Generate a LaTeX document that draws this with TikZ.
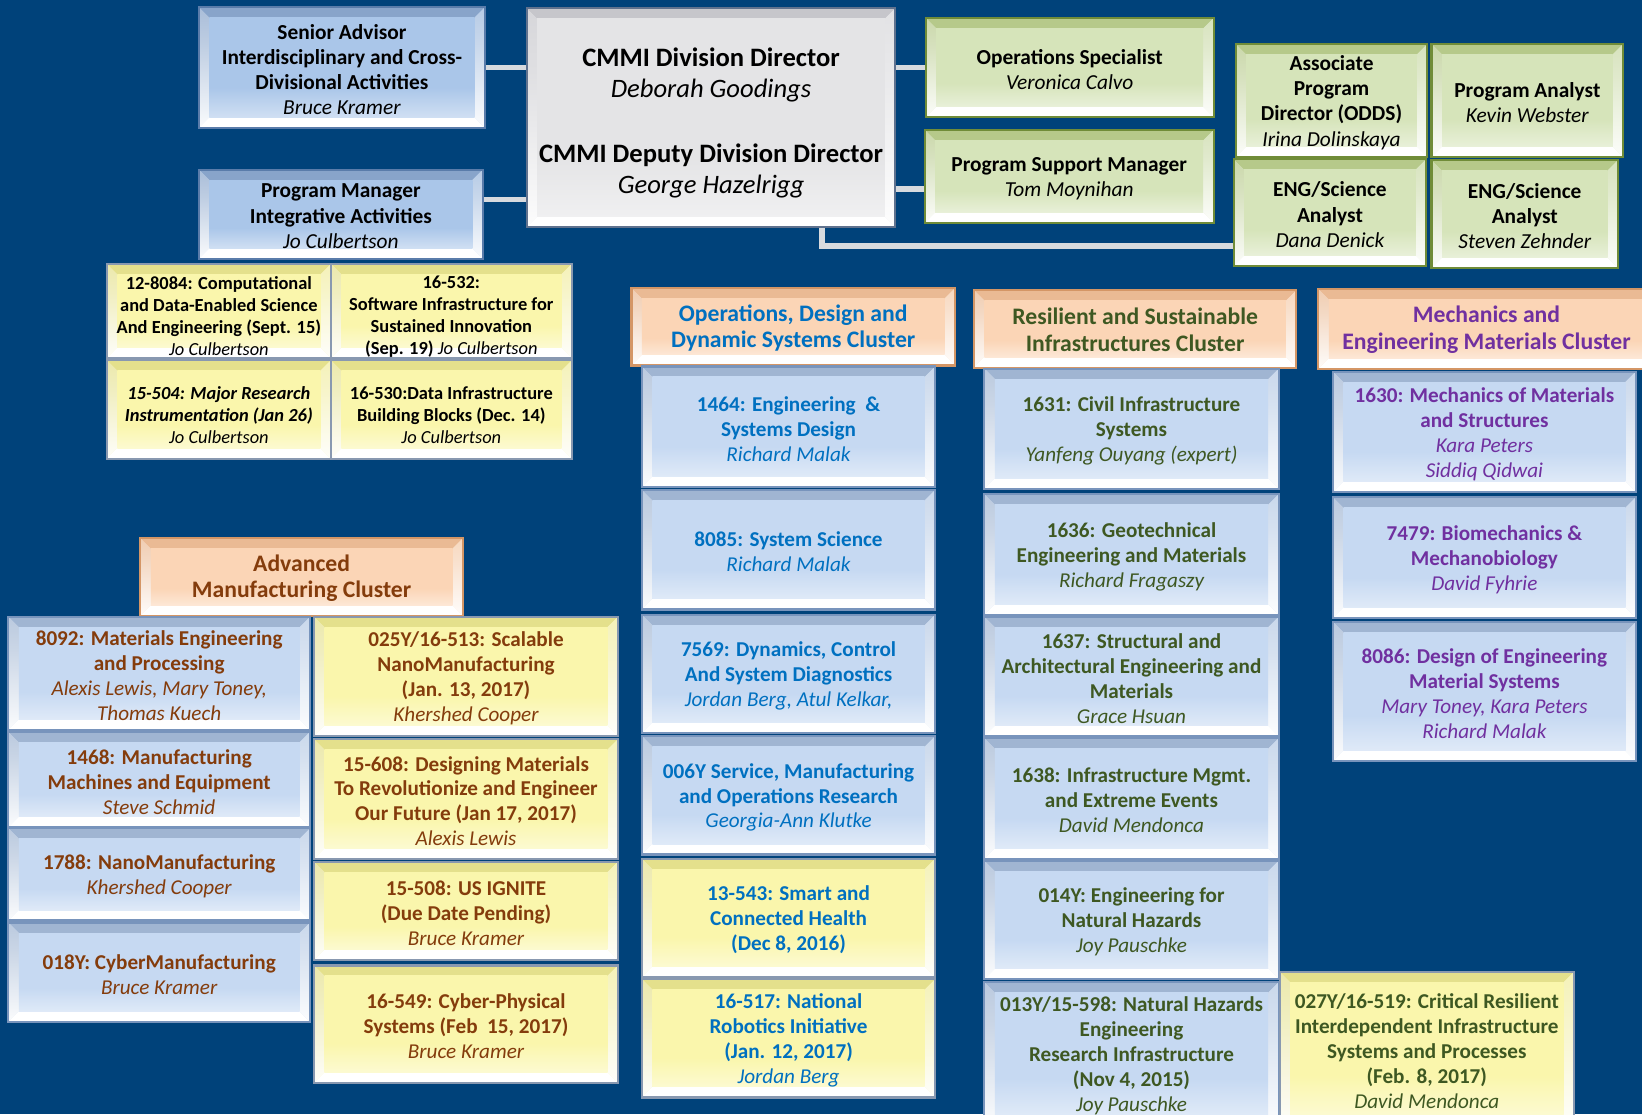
\documentclass[tikz,border=0pt]{standalone}
\usepackage{fontspec}
\setmainfont{Carlito}
\usetikzlibrary{calc,fit}

\definecolor{bg}{RGB}{0,66,122}
\definecolor{conn}{RGB}{215,218,222}
\definecolor{tbF}{RGB}{170,198,233}
\definecolor{tbB}{RGB}{136,164,202}
\definecolor{tbD}{RGB}{90,124,170}
\definecolor{pbF}{RGB}{198,217,242}
\definecolor{pbB}{RGB}{160,181,210}
\definecolor{pbD}{RGB}{120,148,188}
\definecolor{grF}{RGB}{214,228,186}
\definecolor{grB}{RGB}{182,201,138}
\definecolor{grD}{RGB}{112,140,56}
\definecolor{gyF}{RGB}{228,228,230}
\definecolor{gyB}{RGB}{198,198,203}
\definecolor{gyD}{RGB}{96,114,142}
\definecolor{pcF}{RGB}{251,213,182}
\definecolor{pcB}{RGB}{234,186,148}
\definecolor{pcD}{RGB}{212,150,102}
\definecolor{ylF}{RGB}{250,246,172}
\definecolor{ylB}{RGB}{228,224,140}
\definecolor{ylD}{RGB}{136,152,176}
\definecolor{tBlue}{RGB}{0,112,192}
\definecolor{tGreen}{RGB}{62,88,34}
\definecolor{tPurple}{RGB}{112,48,160}
\definecolor{tBrown}{RGB}{132,60,12}

\pgfdeclareverticalshading[bevface]{bevshade}{100bp}{color(0bp)=(white); color(18bp)=(bevface!35!white); color(40bp)=(bevface); color(100bp)=(bevface)}
\pgfdeclareverticalshading[bevside]{sideshade}{100bp}{color(0bp)=(white); color(22bp)=(white); color(60bp)=(bevside!55!white); color(100bp)=(bevside)}

\tikzset{
  bev/.style n args={3}{draw=#3, line width=1pt, fill=#1,
    inner sep=0pt,
    path picture={
      \coordinate (bsw) at (path picture bounding box.south west);
      \coordinate (bne) at (path picture bounding box.north east);
      \coordinate (bnw) at (path picture bounding box.north west);
      \coordinate (bse) at (path picture bounding box.south east);
      \def\bevd{5pt}
      \fill[#2] (bnw) -- (bne) -- ($(bne)+(-\bevd,-\bevd)$) -- ($(bnw)+(\bevd,-\bevd)$) -- cycle;
      \colorlet{bevside}{#2}
      \shade[shading=sideshade] (bnw) -- ($(bnw)+(\bevd,-\bevd)$) -- ($(bsw)+(\bevd,\bevd)$) -- (bsw) -- cycle;
      \colorlet{bevside}{#2!45!#1}
      \shade[shading=sideshade] (bne) -- ($(bne)+(-\bevd,-\bevd)$) -- ($(bse)+(-\bevd,\bevd)$) -- (bse) -- cycle;
      \fill[white] (bsw) -- ($(bsw)+(\bevd,\bevd)$) -- ($(bse)+(-\bevd,\bevd)$) -- (bse) -- cycle;
      \colorlet{bevface}{#1}
      \shade[shading=bevshade] ($(bsw)+(\bevd,\bevd)$) rectangle ($(bne)+(-\bevd,-\bevd)$);
    }},
  txt/.style={align=center, inner sep=0pt, yshift=-1pt},
  topfont/.style={txt, font=\bfseries\fontsize{10.2}{12}\selectfont},
  progfont/.style={txt, font=\bfseries\fontsize{10.1}{11.9}\selectfont, text=#1},
  headfont/.style={txt, yshift=0.5pt, font=\bfseries\fontsize{11.3}{12.6}\selectfont, text=#1},
  smallfont/.style={txt, yshift=-1.5pt, font=\bfseries\fontsize{8.8}{10.5}\selectfont},
  dirfont/.style={txt, yshift=-1.5pt, font=\bfseries\fontsize{12.7}{15}\selectfont},
  blueB/.style={bev={tbF}{tbB}{tbD}},
  greenB/.style={bev={grF}{grB}{grD}},
  greyB/.style={bev={gyF}{gyB}{gyD}},
  peachB/.style={bev={pcF}{pcB}{pcD}},
  progB/.style={bev={pbF}{pbB}{pbD}},
  yelB/.style={bev={ylF}{ylB}{ylD}},
  conn/.style={draw=conn, line width=2.5pt}
}
\newcommand\nm[1]{{\mdseries\itshape #1}}
% name, x1, y1, x2, y2, box style, text style, text
\newcommand\bbx[8]{\node[#6, fit={(#2,#3)(#4,#5)}] (#1) {};
  \node[#7] (#1t) at (#1.center) {#8};}

\begin{document}
\begin{tikzpicture}[x=0.5pt,y=-0.5pt]
\useasboundingbox (0,0) rectangle (1568,1064);
\fill[bg] (0,0) rectangle (1568,1064);

% top row
\bbx{sa}{190}{7}{463}{122}{blueB}{topfont}{Senior Advisor\\Interdisciplinary and Cross-\\Divisional Activities\\\nm{Bruce Kramer}}
\bbx{pm}{190}{162}{461}{247}{blueB}{topfont}{Program Manager\\Integrative Activities\\\nm{Jo Culbertson}}
\bbx{dir}{503}{8}{855}{217}{greyB}{dirfont}{CMMI Division Director\\\nm{Deborah Goodings}\\[16pt]CMMI Deputy Division Director\\\nm{George Hazelrigg}}
\bbx{os}{884}{17}{1159}{112}{greenB}{topfont}{Operations Specialist\\\nm{Veronica Calvo}}
\bbx{psm}{883}{124}{1159}{213}{greenB}{topfont}{Program Support Manager\\\nm{Tom Moynihan}}
\bbx{apd}{1180}{42}{1363}{150}{greenB}{topfont}{Associate\\Program\\Director (ODDS)\\\nm{Irina Dolinskaya}}
\bbx{pa}{1367}{42}{1550}{150}{greenB}{topfont}{Program Analyst\\\nm{Kevin Webster}}
\bbx{eng1}{1178}{152}{1362}{254}{greenB}{topfont}{ENG/Science\\Analyst\\\nm{Dana Denick}}
\bbx{eng2}{1367}{153}{1545}{256}{greenB}{topfont}{ENG/Science\\Analyst\\\nm{Steven Zehnder}}

% connectors
\draw[conn] (sa.east) -- (sa.east -| dir.west);
\coordinate (pmc) at ([yshift=7pt]pm.east);
\draw[conn] (pmc) -- (pmc -| dir.west);
\draw[conn] (os.west -| dir.east) -- (os.west);
\coordinate (psc) at ([yshift=-6pt]psm.west);
\draw[conn] (psc -| dir.east) -- (psc);
\coordinate (dbc) at ([xshift=-35.5pt]dir.south east);
\coordinate (edc) at ([yshift=-16pt]eng1.west);
\draw[conn] (dbc) |- (edc);

% small yellow boxes
\bbx{y1}{102}{252}{316}{342}{yelB}{smallfont}{12-8084: Computational\\and Data-Enabled Science\\And Engineering (Sept. 15)\\\nm{Jo Culbertson}}
\bbx{y2}{316}{252}{546}{342}{yelB}{smallfont}{16-532:\\Software Infrastructure for\\Sustained Innovation\\(Sep. 19) \nm{Jo Culbertson}}
\bbx{y3}{102}{344}{316}{438}{yelB}{smallfont}{\itshape 15-504: Major Research\\\itshape Instrumentation (Jan 26)\\\nm{Jo Culbertson}}
\bbx{y4}{316}{344}{546}{438}{yelB}{smallfont}{16-530:Data Infrastructure\\Building Blocks (Dec. 14)\\\nm{Jo Culbertson}}

% Operations cluster
\bbx{hops}{603}{275}{912}{349}{peachB}{headfont=tBlue}{Operations, Design and\\Dynamic Systems Cluster}
\bbx{o1}{613}{350}{893}{465}{progB}{progfont=tBlue}{1464: Engineering\ \ \&\\Systems Design\\\nm{Richard Malak}}
\bbx{o2}{613}{468}{893}{582}{progB}{progfont=tBlue}{8085: System Science\\\nm{Richard Malak}}
\bbx{o3}{613}{587}{893}{700}{progB}{progfont=tBlue}{7569: Dynamics, Control\\And System Diagnostics\\\nm{Jordan Berg, Atul Kelkar,}}
\bbx{o4}{613}{703}{893}{816}{progB}{progfont=tBlue}{006Y Service, Manufacturing\\and Operations Research\\\nm{Georgia-Ann Klutke}}
\bbx{o5}{613}{820}{893}{933}{yelB}{progfont=tBlue}{13-543: Smart and\\Connected Health\\(Dec 8, 2016)}
\bbx{o6}{613}{935}{893}{1048}{yelB}{progfont=tBlue}{16-517: National\\Robotics Initiative\\(Jan. 12, 2017)\\\nm{Jordan Berg}}

% Resilient cluster
\bbx{hres}{930}{277}{1238}{351}{peachB}{headfont=tGreen}{Resilient and Sustainable\\Infrastructures Cluster}
\bbx{r1}{940}{352}{1221}{467}{progB}{progfont=tGreen}{1631: Civil Infrastructure\\Systems\\\nm{Yanfeng Ouyang (expert)}}
\bbx{r2}{940}{472}{1221}{587}{progB}{progfont=tGreen}{1636: Geotechnical\\Engineering and Materials\\\nm{Richard Fragaszy}}
\bbx{r3}{940}{589}{1221}{703}{progB}{progfont=tGreen}{1637: Structural and\\Architectural Engineering and\\Materials\\\nm{Grace Hsuan}}
\bbx{r4}{940}{705}{1221}{820}{progB}{progfont=tGreen}{1638: Infrastructure Mgmt.\\and Extreme Events\\\nm{David Mendonca}}
\bbx{r5}{940}{822}{1221}{935}{progB}{progfont=tGreen}{014Y: Engineering for\\Natural Hazards\\\nm{Joy Pauschke}}
\bbx{r6}{940}{938}{1221}{1075}{progB}{progfont=tGreen}{013Y/15-598: Natural Hazards\\Engineering\\Research Infrastructure\\(Nov 4, 2015)\\\nm{Joy Pauschke}}
\bbx{r7}{1222}{928}{1503}{1075}{yelB}{progfont=tGreen}{027Y/16-519: Critical Resilient\\Interdependent Infrastructure\\Systems and Processes\\(Feb. 8, 2017)\\\nm{David Mendonca}}

% Mechanics cluster
\bbx{hmech}{1259}{276}{1580}{352}{peachB}{headfont=tPurple}{Mechanics and\\Engineering Materials Cluster}
\bbx{m1}{1273}{355}{1562}{470}{progB}{progfont=tPurple}{1630: Mechanics of Materials\\and Structures\\\nm{Kara Peters}\\\nm{Siddiq Qidwai}}
\bbx{m2}{1273}{475}{1562}{590}{progB}{progfont=tPurple}{7479: Biomechanics \&\\Mechanobiology\\\nm{David Fyhrie}}
\bbx{m3}{1273}{594}{1562}{727}{progB}{progfont=tPurple}{8086: Design of Engineering\\Material Systems\\\nm{Mary Toney, Kara Peters}\\\nm{Richard Malak}}

% Advanced Manufacturing cluster
\bbx{ham}{134}{514}{442}{588}{peachB}{headfont=tBrown}{Advanced\\Manufacturing Cluster}
\bbx{a1}{8}{589}{296}{697}{progB}{progfont=tBrown}{8092: Materials Engineering\\and Processing\\\nm{Alexis Lewis, Mary Toney,}\\\nm{Thomas Kuech}}
\bbx{a2}{8}{699}{296}{790}{progB}{progfont=tBrown}{1468: Manufacturing\\Machines and Equipment\\\nm{Steve Schmid}}
\bbx{a3}{8}{791}{296}{879}{progB}{progfont=tBrown}{1788: NanoManufacturing\\\nm{Khershed Cooper}}
\bbx{a4}{8}{881}{296}{976}{progB}{progfont=tBrown}{018Y: CyberManufacturing\\\nm{Bruce Kramer}}
\bbx{b1}{300}{589}{590}{703}{yelB}{progfont=tBrown}{025Y/16-513: Scalable\\NanoManufacturing\\(Jan. 13, 2017)\\\nm{Khershed Cooper}}
\bbx{b2}{300}{706}{590}{820}{yelB}{progfont=tBrown}{15-608: Designing Materials\\To Revolutionize and Engineer\\Our Future (Jan 17, 2017)\\\nm{Alexis Lewis}}
\bbx{b3}{300}{823}{590}{917}{yelB}{progfont=tBrown}{15-508: US IGNITE\\(Due Date Pending)\\\nm{Bruce Kramer}}
\bbx{b4}{300}{922}{590}{1034}{yelB}{progfont=tBrown}{16-549: Cyber-Physical\\Systems (Feb\ \ 15, 2017)\\\nm{Bruce Kramer}}
\end{tikzpicture}
\end{document}
